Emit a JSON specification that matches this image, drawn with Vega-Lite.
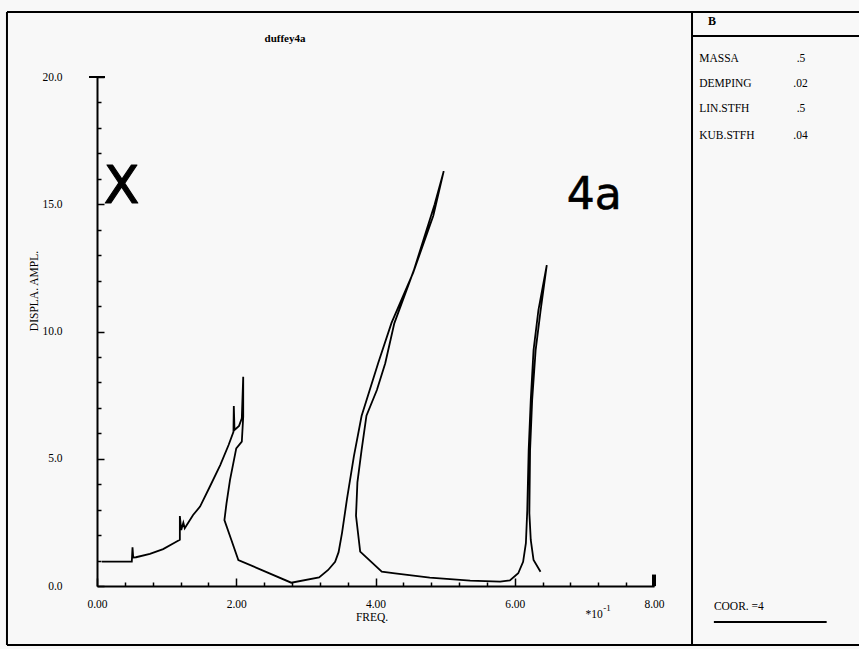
{
  "$schema": "https://vega.github.io/schema/vega-lite/v6.json",
  "width": 557,
  "height": 509,
  "autosize": "none",
  "padding": {"left": 97, "top": 77, "right": 205, "bottom": 63},
  "background": "#f8f8f8",
  "config": {"view": {"stroke": null}, "axis": {"labelOverlap": false, "labelBound": false, "labelFlush": false}},
  "layer": [
    {
      "data": {"values": [
        {"x": -1.293, "x2": -1.293, "y": 22.55, "y2": -2.318},
        {"x": -1.293, "x2": 11.2, "y": 22.55, "y2": 22.55},
        {"x": -1.293, "x2": 11.2, "y": -2.318, "y2": -2.318},
        {"x": 8.546, "x2": 8.546, "y": 22.55, "y2": -2.318},
        {"x": 8.546, "x2": 11.2, "y": 21.61, "y2": 21.61},
        {"x": 8.86, "x2": 10.48, "y": -1.415, "y2": -1.415},
        {"x": -0.115, "x2": 0.115, "y": 20, "y2": 20}
      ]},
      "mark": {"type": "rule", "color": "black", "strokeWidth": 2},
      "encoding": {
        "x": {"field": "x", "type": "quantitative", "scale": {"domain": [0, 8], "nice": false, "zero": false}, "title": null,
          "axis": {
            "values": [0, 0.4, 0.8, 1.2, 1.6, 2, 2.4, 2.8, 3.2, 3.6, 4, 4.4, 4.8, 5.2, 5.6, 6, 6.4, 6.8, 7.2, 7.6, 8],
            "tickCount": 50,
            "tickSize": {"condition": {"test": "datum.value % 2 == 0", "value": -8}, "value": -4},
            "labelExpr": "datum.value % 2 == 0 ? format(datum.value, '.2f') : ''",
            "domainColor": "black", "domainWidth": 2, "tickColor": "black", "tickWidth": 1.5,
            "labelFont": "Liberation Serif", "labelFontSize": 11.5, "labelColor": "black",
            "labelPadding": 20, "labelDx": -6.5, "grid": false, "labelFlush": false, "labelOverlap": false, "title": null
          }},
        "x2": {"field": "x2"},
        "y": {"field": "y", "type": "quantitative", "scale": {"domain": [0, 20], "nice": false, "zero": false}, "title": null,
          "axis": {
            "values": [0, 1, 2, 3, 4, 5, 6, 7, 8, 9, 10, 11, 12, 13, 14, 15, 16, 17, 18, 19, 20],
            "tickCount": 50,
            "tickSize": {"condition": {"test": "datum.value % 5 == 0", "value": -7}, "value": -4},
            "labelExpr": "datum.value % 5 == 0 ? format(datum.value, '.1f') : ''",
            "domainColor": "black", "domainWidth": 2, "tickColor": "black", "tickWidth": 1.5,
            "labelFont": "Liberation Serif", "labelFontSize": 11.5, "labelColor": "black",
            "labelPadding": 42, "grid": false, "labelFlush": false, "labelOverlap": false, "title": null
          }},
        "y2": {"field": "y2"}
      }
    },
    {
      "data": {"values": [
        {"x": 8, "x2": 8, "y": 0, "y2": 0.45}
      ]},
      "mark": {"type": "rule", "color": "black", "strokeWidth": 4},
      "encoding": {
        "x": {"field": "x", "type": "quantitative", "scale": {"domain": [0, 8], "nice": false, "zero": false}, "title": null},
        "x2": {"field": "x2"},
        "y": {"field": "y", "type": "quantitative", "scale": {"domain": [0, 20], "nice": false, "zero": false}, "title": null},
        "y2": {"field": "y2"}
      }
    },
    {
      "data": {"values": [
        {"i": 1, "x": 0.07, "y": 0.96}, {"i": 2, "x": 0.50, "y": 0.96}, {"i": 3, "x": 0.51, "y": 1.52},
        {"i": 4, "x": 0.52, "y": 1.12}, {"i": 5, "x": 0.56, "y": 1.13}, {"i": 6, "x": 0.76, "y": 1.26},
        {"i": 7, "x": 0.95, "y": 1.45}, {"i": 8, "x": 1.10, "y": 1.68}, {"i": 9, "x": 1.19, "y": 1.82},
        {"i": 10, "x": 1.19, "y": 2.75}, {"i": 11, "x": 1.21, "y": 2.2}, {"i": 12, "x": 1.24, "y": 2.49},
        {"i": 13, "x": 1.26, "y": 2.27}, {"i": 14, "x": 1.38, "y": 2.79}, {"i": 15, "x": 1.48, "y": 3.12},
        {"i": 16, "x": 1.62, "y": 3.9}, {"i": 17, "x": 1.77, "y": 4.75}, {"i": 18, "x": 1.89, "y": 5.54},
        {"i": 19, "x": 1.96, "y": 6.06}, {"i": 20, "x": 1.965, "y": 7.07}, {"i": 21, "x": 1.975, "y": 6.13},
        {"i": 22, "x": 2.04, "y": 6.29}, {"i": 23, "x": 2.08, "y": 6.59}, {"i": 24, "x": 2.10, "y": 8.22},
        {"i": 25, "x": 2.10, "y": 6.65}, {"i": 26, "x": 2.08, "y": 5.67}, {"i": 27, "x": 2.0, "y": 5.41},
        {"i": 28, "x": 1.91, "y": 4.16}, {"i": 29, "x": 1.86, "y": 3.25}, {"i": 30, "x": 1.83, "y": 2.59},
        {"i": 31, "x": 1.93, "y": 1.81}, {"i": 32, "x": 2.03, "y": 1.02}, {"i": 33, "x": 2.79, "y": 0.13},
        {"i": 34, "x": 3.19, "y": 0.34}, {"i": 35, "x": 3.32, "y": 0.63}, {"i": 36, "x": 3.42, "y": 0.95},
        {"i": 37, "x": 3.47, "y": 1.33}, {"i": 38, "x": 3.52, "y": 2.1}, {"i": 39, "x": 3.59, "y": 3.41},
        {"i": 40, "x": 3.69, "y": 5.1}, {"i": 41, "x": 3.80, "y": 6.68}, {"i": 42, "x": 4.04, "y": 8.77},
        {"i": 43, "x": 4.23, "y": 10.34}, {"i": 44, "x": 4.54, "y": 12.3}, {"i": 45, "x": 4.83, "y": 14.55},
        {"i": 46, "x": 4.98, "y": 16.3}, {"i": 47, "x": 4.85, "y": 15.0}, {"i": 48, "x": 4.55, "y": 12.4},
        {"i": 49, "x": 4.27, "y": 10.32}, {"i": 50, "x": 4.14, "y": 8.75}, {"i": 51, "x": 4.02, "y": 7.7},
        {"i": 52, "x": 3.87, "y": 6.69}, {"i": 53, "x": 3.80, "y": 5.34}, {"i": 54, "x": 3.74, "y": 4.07},
        {"i": 55, "x": 3.72, "y": 2.76}, {"i": 56, "x": 3.78, "y": 1.35}, {"i": 57, "x": 4.09, "y": 0.56},
        {"i": 58, "x": 4.28, "y": 0.5}, {"i": 59, "x": 4.78, "y": 0.33}, {"i": 60, "x": 5.36, "y": 0.21},
        {"i": 61, "x": 5.79, "y": 0.17}, {"i": 62, "x": 5.93, "y": 0.22}, {"i": 63, "x": 6.05, "y": 0.5},
        {"i": 64, "x": 6.12, "y": 0.95}, {"i": 65, "x": 6.16, "y": 1.68}, {"i": 66, "x": 6.18, "y": 2.99},
        {"i": 67, "x": 6.20, "y": 5.34}, {"i": 68, "x": 6.23, "y": 7.31}, {"i": 69, "x": 6.27, "y": 9.27},
        {"i": 70, "x": 6.34, "y": 10.84}, {"i": 71, "x": 6.46, "y": 12.61}, {"i": 72, "x": 6.37, "y": 10.8},
        {"i": 73, "x": 6.30, "y": 9.27}, {"i": 74, "x": 6.25, "y": 7.31}, {"i": 75, "x": 6.22, "y": 5.34},
        {"i": 76, "x": 6.21, "y": 2.86}, {"i": 77, "x": 6.23, "y": 1.81}, {"i": 78, "x": 6.27, "y": 1.02},
        {"i": 79, "x": 6.37, "y": 0.56}
      ]},
      "mark": {"type": "line", "color": "black", "strokeWidth": 1.8},
      "encoding": {
        "x": {"field": "x", "type": "quantitative", "scale": {"domain": [0, 8], "nice": false, "zero": false}, "title": null},
        "y": {"field": "y", "type": "quantitative", "scale": {"domain": [0, 20], "nice": false, "zero": false}, "title": null},
        "order": {"field": "i", "type": "quantitative"}
      }
    },
    {
      "data": {"values": [
        {"x": 8.65, "y": 20.70, "t": "MASSA"},
        {"x": 8.65, "y": 19.71, "t": "DEMPING"},
        {"x": 8.65, "y": 18.73, "t": "LIN.STFH"},
        {"x": 8.65, "y": 17.69, "t": "KUB.STFH"},
        {"x": 10.05, "y": 20.70, "t": ".5"},
        {"x": 10.0, "y": 19.71, "t": ".02"},
        {"x": 10.05, "y": 18.73, "t": ".5"},
        {"x": 10.0, "y": 17.69, "t": ".04"},
        {"x": 8.86, "y": -0.81, "t": "COOR. =4"}
      ]},
      "mark": {"type": "text", "align": "left", "baseline": "middle", "font": "Liberation Serif", "fontSize": 11.5, "color": "black"},
      "encoding": {
        "x": {"field": "x", "type": "quantitative", "scale": {"domain": [0, 8], "nice": false, "zero": false}, "title": null},
        "y": {"field": "y", "type": "quantitative", "scale": {"domain": [0, 20], "nice": false, "zero": false}, "title": null},
        "text": {"field": "t"}
      }
    },
    {
      "data": {"values": [
        {"x": 3.95, "y": -1.25, "t": "FREQ."},
        {"x": 7.14, "y": -1.14, "t": "*10"}
      ]},
      "mark": {"type": "text", "align": "center", "baseline": "middle", "font": "Liberation Serif", "fontSize": 11.5, "color": "black"},
      "encoding": {
        "x": {"field": "x", "type": "quantitative", "scale": {"domain": [0, 8], "nice": false, "zero": false}, "title": null},
        "y": {"field": "y", "type": "quantitative", "scale": {"domain": [0, 20], "nice": false, "zero": false}, "title": null},
        "text": {"field": "t"}
      }
    },
    {
      "data": {"values": [
        {"x": 7.27, "y": -0.88, "t": "-1"}
      ]},
      "mark": {"type": "text", "align": "left", "baseline": "middle", "font": "Liberation Serif", "fontSize": 9, "color": "black"},
      "encoding": {
        "x": {"field": "x", "type": "quantitative", "scale": {"domain": [0, 8], "nice": false, "zero": false}, "title": null},
        "y": {"field": "y", "type": "quantitative", "scale": {"domain": [0, 20], "nice": false, "zero": false}, "title": null},
        "text": {"field": "t"}
      }
    },
    {
      "data": {"values": [
        {"x": 2.70, "y": 21.49, "t": "duffey4a"}
      ]},
      "mark": {"type": "text", "align": "center", "baseline": "middle", "font": "Liberation Serif", "fontSize": 11, "fontWeight": "bold", "color": "black"},
      "encoding": {
        "x": {"field": "x", "type": "quantitative", "scale": {"domain": [0, 8], "nice": false, "zero": false}, "title": null},
        "y": {"field": "y", "type": "quantitative", "scale": {"domain": [0, 20], "nice": false, "zero": false}, "title": null},
        "text": {"field": "t"}
      }
    },
    {
      "data": {"values": [
        {"x": 8.776, "y": 22.2, "t": "B"}
      ]},
      "mark": {"type": "text", "align": "left", "baseline": "middle", "font": "Liberation Serif", "fontSize": 12, "fontWeight": "bold", "color": "black"},
      "encoding": {
        "x": {"field": "x", "type": "quantitative", "scale": {"domain": [0, 8], "nice": false, "zero": false}, "title": null},
        "y": {"field": "y", "type": "quantitative", "scale": {"domain": [0, 20], "nice": false, "zero": false}, "title": null},
        "text": {"field": "t"}
      }
    },
    {
      "data": {"values": [
        {"x": -0.89, "y": 11.59, "t": "DISPLA.  AMPL."}
      ]},
      "mark": {"type": "text", "align": "center", "baseline": "middle", "angle": 270, "font": "Liberation Serif", "fontSize": 11.5, "color": "black"},
      "encoding": {
        "x": {"field": "x", "type": "quantitative", "scale": {"domain": [0, 8], "nice": false, "zero": false}, "title": null},
        "y": {"field": "y", "type": "quantitative", "scale": {"domain": [0, 20], "nice": false, "zero": false}, "title": null},
        "text": {"field": "t"}
      }
    },
    {
      "data": {"values": [
        {"x": 0.352, "y": 15.04, "t": "X"}
      ]},
      "mark": {"type": "text", "align": "center", "baseline": "alphabetic", "font": "DejaVu Sans", "fontSize": 52, "color": "black", "stroke": "black", "strokeWidth": 1.2, "strokeJoin": "round"},
      "encoding": {
        "x": {"field": "x", "type": "quantitative", "scale": {"domain": [0, 8], "nice": false, "zero": false}, "title": null},
        "y": {"field": "y", "type": "quantitative", "scale": {"domain": [0, 20], "nice": false, "zero": false}, "title": null},
        "text": {"field": "t"}
      }
    },
    {
      "data": {"values": [
        {"x": 7.141, "y": 14.80, "t": "4a"}
      ]},
      "mark": {"type": "text", "align": "center", "baseline": "alphabetic", "font": "DejaVu Sans", "fontSize": 44, "color": "black", "stroke": "black", "strokeWidth": 0.6},
      "encoding": {
        "x": {"field": "x", "type": "quantitative", "scale": {"domain": [0, 8], "nice": false, "zero": false}, "title": null},
        "y": {"field": "y", "type": "quantitative", "scale": {"domain": [0, 20], "nice": false, "zero": false}, "title": null},
        "text": {"field": "t"}
      }
    }
  ]
}
